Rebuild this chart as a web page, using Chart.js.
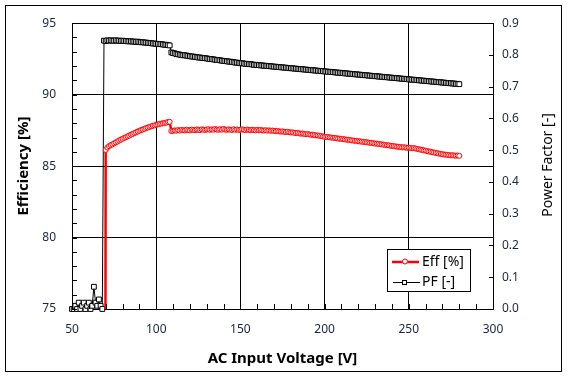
<!DOCTYPE html>
<html><head><meta charset="utf-8">
<script src="https://cdn.jsdelivr.net/npm/chart.js@4.4.1/dist/chart.umd.min.js"></script>
<style>html,body{margin:0;padding:0;background:#fff;}canvas{display:block}</style>
</head><body>
<canvas id="c" width="569" height="381"></canvas>
<script>
const voltage = [
50,51,52,53,54,55,56,57,58,59,60,61,62,63,64,65,66,67,68,69,
70,71,72,73,74,75,76,77,78,79,80,81,82,83,84,85,86,87,88,89,
90,91,92,93,94,95,96,97,98,99,100,101,102,103,104,105,106,107,108,109,
110,111,112,113,114,115,116,117,118,119,120,121,122,123,124,125,126,127,128,129,
130,131,132,133,134,135,136,137,138,139,140,141,142,143,144,145,146,147,148,149,
150,151,152,153,154,155,156,157,158,159,160,161,162,163,164,165,166,167,168,169,
170,171,172,173,174,175,176,177,178,179,180,181,182,183,184,185,186,187,188,189,
190,191,192,193,194,195,196,197,198,199,200,201,202,203,204,205,206,207,208,209,
210,211,212,213,214,215,216,217,218,219,220,221,222,223,224,225,226,227,228,229,
230,231,232,233,234,235,236,237,238,239,240,241,242,243,244,245,246,247,248,249,
250,251,252,253,254,255,256,257,258,259,260,261,262,263,264,265,266,267,268,269,
270,271,272,273,274,275,276,277,278,279,280];

const efficiency = [
0,0,0,0,0,0,0,0,0,0,0,0,0,0,0,0,0,0,0,0,
86.13,86.30,86.40,86.47,86.52,86.59,86.66,86.72,86.79,86.85,
86.91,86.97,87.02,87.09,87.14,87.20,87.25,87.31,87.36,87.42,
87.47,87.52,87.56,87.61,87.66,87.70,87.74,87.78,87.82,87.85,
87.89,87.92,87.95,87.97,88.00,88.02,88.05,88.08,88.10,
87.45,87.47,87.50,87.48,87.52,87.49,87.53,87.51,87.50,87.54,
87.52,87.50,87.55,87.53,87.51,87.56,87.54,87.52,87.57,87.55,
87.53,87.56,87.58,87.54,87.57,87.55,87.59,87.56,87.54,87.58,
87.55,87.60,87.56,87.54,87.57,87.55,87.53,87.58,87.54,87.56,
87.53,87.55,87.57,87.54,87.52,87.56,87.53,87.51,87.54,87.52,87.50,87.53,
87.51,87.53,87.50,87.49,87.51,87.48,87.50,87.47,87.49,87.46,
87.44,87.46,87.43,87.41,87.43,87.40,87.38,87.40,87.37,87.35,
87.36,87.33,87.31,87.32,87.29,87.27,87.28,87.25,87.23,87.24,
87.21,87.19,87.20,87.17,87.15,87.14,87.12,87.10,87.08,87.05,
87.04,87.03,87.01,87.00,86.98,86.97,86.95,86.93,86.92,86.90,
86.89,86.87,86.85,86.84,86.82,86.80,86.79,86.77,86.76,86.74,
86.73,86.71,86.70,86.68,86.67,86.65,86.63,86.62,86.60,86.58,
86.57,86.55,86.53,86.52,86.50,86.48,86.46,86.45,86.43,86.41,
86.40,86.38,86.36,86.35,86.33,86.31,86.32,86.30,86.28,86.29,
86.27,86.25,86.26,86.23,86.20,86.18,86.15,86.13,86.10,86.08,
86.05,86.02,86.00,85.97,85.95,85.92,85.90,85.87,85.85,85.83,
85.81,85.80,85.78,85.77,85.75,85.76,85.74,85.73,85.74,85.72];

const powerFactor = [
0.00,0.00,0.01,0.00,0.02,0.00,0.01,0.02,0.00,0.01,0.02,0.00,0.01,0.07,0.02,0.01,0.03,0.01,0.00,
0.845,0.844,0.846,0.845,0.846,0.845,0.845,0.846,0.845,0.845,
0.844,0.845,0.844,0.844,0.843,0.843,0.843,0.842,0.842,0.841,
0.842,0.841,0.840,0.840,0.839,0.839,0.838,0.838,0.837,0.836,
0.836,0.835,0.835,0.834,0.834,0.833,0.832,0.832,0.831,0.830,
0.808,0.806,0.805,0.803,0.802,0.801,0.800,0.799,0.799,0.798,0.797,0.796,
0.795,0.795,0.794,0.793,0.792,0.792,0.791,0.790,0.790,0.789,
0.788,0.787,0.787,0.786,0.785,0.784,0.784,0.783,0.782,0.781,
0.781,0.780,0.779,0.779,0.778,0.777,0.776,0.776,0.775,0.774,
0.774,0.773,0.772,0.772,0.771,0.771,0.770,0.769,0.769,0.768,
0.768,0.767,0.767,0.766,0.766,0.765,0.765,0.764,0.764,0.763,
0.763,0.762,0.762,0.761,0.761,0.760,0.760,0.759,0.759,0.758,
0.758,0.757,0.757,0.756,0.756,0.755,0.755,0.754,0.754,0.753,
0.753,0.752,0.752,0.751,0.751,0.750,0.750,0.749,0.749,0.748,
0.748,0.747,0.747,0.746,0.746,0.745,0.745,0.744,0.744,0.743,
0.743,0.742,0.742,0.741,0.741,0.740,0.740,0.739,0.739,0.738,
0.738,0.737,0.737,0.736,0.736,0.735,0.735,0.734,0.734,0.733,
0.733,0.732,0.732,0.731,0.731,0.730,0.730,0.729,0.729,0.728,
0.728,0.727,0.727,0.726,0.726,0.725,0.725,0.724,0.724,0.723,
0.723,0.722,0.722,0.721,0.721,0.720,0.720,0.719,0.719,0.718,
0.718,0.717,0.717,0.716,0.716,0.715,0.715,0.714,0.714,0.713,
0.713,0.712,0.712,0.711,0.711,0.710,0.710,0.709,0.709,0.708];

const seriesNames = ['Eff [%]', 'PF [-]'];
const xTitle = 'AC Input Voltage [V]';
const yTitle = 'Efficiency [%]';
const y1Title = 'Power Factor [-]';

const effPts = voltage.map((v, i) => ({x: v, y: efficiency[i]}));
const pfPts = voltage.map((v, i) => ({x: v, y: powerFactor[i]}));

const TICK_COLOR = '#1c2440';
const FONT = '"Noto Sans", "DejaVu Sans", sans-serif';

const decor = {
  id: 'decor',
  beforeDraw(chart) {
    const ctx = chart.ctx;
    ctx.save();
    ctx.fillStyle = '#fff';
    ctx.fillRect(0, 0, chart.width, chart.height);
    ctx.strokeStyle = '#000';
    ctx.lineWidth = 1;
    ctx.strokeRect(5.5, 5.5, 556, 366);
    ctx.restore();
  },
  afterDraw(chart) {
    const {ctx, chartArea: a, scales: {x, y, y1}} = chart;
    ctx.save();
    ctx.strokeStyle = '#000';
    ctx.lineWidth = 1;
    ctx.beginPath();
    for (let v = 75; v <= 95; v += 1) {
      const p = Math.round(y.getPixelForValue(v)) + 0.5;
      ctx.moveTo(a.left, p); ctx.lineTo(a.left + 5, p);
    }
    for (let k = 0; k <= 9; k++) {
      const p = Math.round(y1.getPixelForValue(k / 10)) + 0.5;
      ctx.moveTo(a.right, p); ctx.lineTo(a.right - 4, p);
    }
    for (let v = 50; v <= 300; v += 10) {
      const p = Math.round(x.getPixelForValue(v)) + 0.5;
      ctx.moveTo(p, a.bottom); ctx.lineTo(p, a.bottom - 5);
    }
    ctx.stroke();

    // axis titles
    ctx.fillStyle = '#000';
    ctx.textAlign = 'center';
    ctx.textBaseline = 'middle';
    ctx.font = 'bold 15px ' + FONT;
    ctx.fillText(xTitle, (a.left + a.right) / 2, 359);
    ctx.save();
    ctx.translate(24, 166);
    ctx.rotate(-Math.PI / 2);
    ctx.fillText(yTitle, 0, 0);
    ctx.restore();
    ctx.save();
    ctx.translate(548, 165);
    ctx.rotate(-Math.PI / 2);
    ctx.font = '14px ' + FONT;
    ctx.fillText(y1Title, 0, 0);
    ctx.restore();

    // legend
    const ds = chart.data.datasets;
    ctx.fillStyle = '#fff';
    ctx.fillRect(387.5, 249.5, 83, 42);
    ctx.strokeStyle = '#000';
    ctx.lineWidth = 1;
    ctx.strokeRect(387.5, 249.5, 83, 42);
    // Eff
    ctx.strokeStyle = ds[0].borderColor;
    ctx.lineWidth = 2.5;
    ctx.beginPath(); ctx.moveTo(392, 262); ctx.lineTo(419, 262); ctx.stroke();
    ctx.lineWidth = 1;
    ctx.fillStyle = '#fff';
    ctx.beginPath(); ctx.arc(405, 261.5, 2.5, 0, Math.PI * 2); ctx.fill(); ctx.stroke();
    // PF
    ctx.strokeStyle = ds[1].borderColor;
    ctx.lineWidth = 1;
    ctx.beginPath(); ctx.moveTo(393, 282.5); ctx.lineTo(420, 282.5); ctx.stroke();
    ctx.fillStyle = '#fff';
    ctx.fillRect(402.5, 280.5, 4, 4);
    ctx.strokeRect(402.5, 280.5, 4, 4);
    ctx.fillStyle = '#000';
    ctx.textAlign = 'left';
    ctx.font = '14px ' + FONT;
    ctx.fillText(ds[0].label, 422, 262);
    ctx.fillText(ds[1].label, 422, 282);
    ctx.restore();
  }
};

new Chart(document.getElementById('c'), {
  type: 'line',
  data: {
    datasets: [
      {
        label: seriesNames[0], data: effPts, yAxisID: 'y',
        borderColor: '#ff0000', borderWidth: 2.5,
        pointStyle: 'circle', pointRadius: 2.5, pointBorderWidth: 1,
        pointBackgroundColor: '#ffffff', pointBorderColor: '#ff0000',
        tension: 0
      },
      {
        label: seriesNames[1], data: pfPts, yAxisID: 'y1',
        borderColor: '#000000', borderWidth: 1,
        pointStyle: 'rect', pointRadius: 3.4, pointBorderWidth: 1,
        pointBackgroundColor: '#ffffff', pointBorderColor: '#000000',
        tension: 0, clip: false
      }
    ]
  },
  options: {
    responsive: false, animation: false, devicePixelRatio: 1, events: [],
    layout: {padding: {top: 18, left: 0, right: 0, bottom: 0}},
    plugins: {legend: {display: false}, tooltip: {enabled: false}},
    scales: {
      x: {
        type: 'linear', min: 50, max: 300,
        ticks: {stepSize: 50, autoSkip: false, color: TICK_COLOR, padding: 13, font: {family: FONT, size: 12}, maxRotation: 0},
        grid: {color: '#000', lineWidth: 1, drawTicks: false},
        border: {display: true, color: '#000', width: 1},
        afterFit(s) { s.height = 72; }
      },
      y: {
        position: 'left', min: 75, max: 95,
        ticks: {stepSize: 5, color: TICK_COLOR, padding: 16, font: {family: FONT, size: 12}},
        grid: {color: '#000', lineWidth: 1, drawTicks: false},
        border: {display: true, color: '#000', width: 1},
        afterFit(s) { s.width = 72; }
      },
      y1: {
        position: 'right', min: 0, max: 0.9,
        ticks: {stepSize: 0.1, color: TICK_COLOR, padding: 9, font: {family: FONT, size: 12},
          callback: v => Number(v).toFixed(1)},
        grid: {display: false, drawTicks: false},
        border: {display: true, color: '#000', width: 1},
        afterFit(s) { s.width = 76; }
      }
    }
  },
  plugins: [decor]
});
</script>
</body></html>
